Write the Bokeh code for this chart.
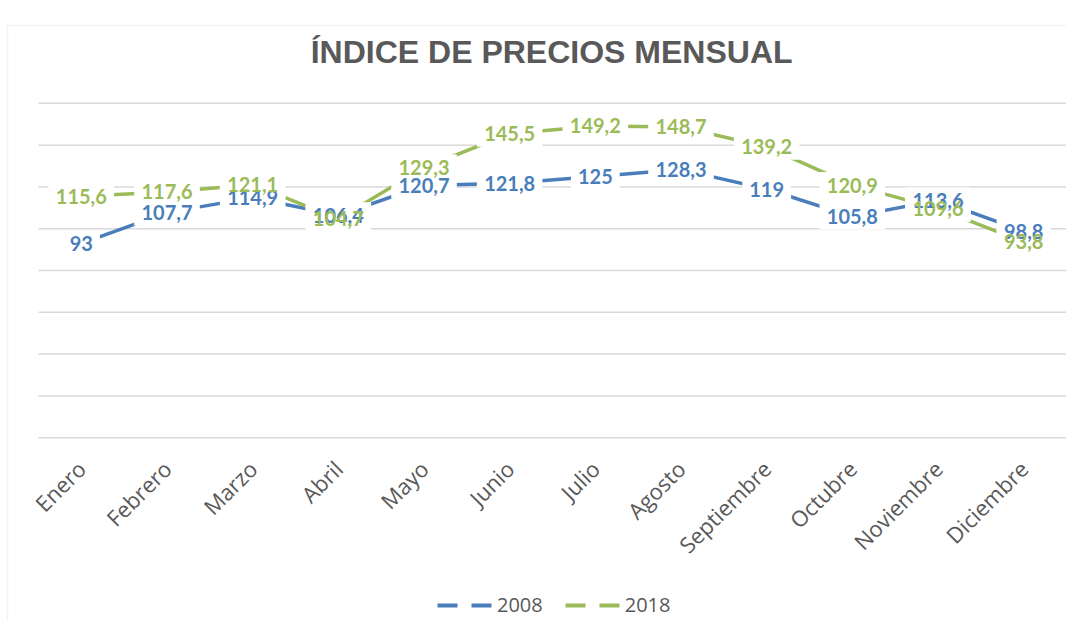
import math
from bokeh.plotting import figure
from bokeh.models import ColumnDataSource, Range1d, Legend, LegendItem, BoxAnnotation
from bokeh.core.properties import value
from bokeh.embed import file_html
from bokeh.resources import INLINE

months = ["Enero", "Febrero", "Marzo", "Abril", "Mayo", "Junio", "Julio",
          "Agosto", "Septiembre", "Octubre", "Noviembre", "Diciembre"]
v2008 = [93, 107.7, 114.9, 106.4, 120.7, 121.8, 125, 128.3, 119, 105.8, 113.6, 98.8]
v2018 = [115.6, 117.6, 121.1, 104.7, 129.3, 145.5, 149.2, 148.7, 139.2, 120.9, 109.6, 93.8]
series_names = ["2008", "2018"]
y_ticks = [0, 20, 40, 60, 80, 100, 120, 140, 160]
title_text = "ÍNDICE DE PRECIOS MENSUAL"

BLUE = "#4a7ebb"
GREEN = "#9bbb59"
GRAY = "#595959"
GRID = "#d9d9d9"
LABEL_PX = 20

W, H = 1066, 621
LEFT_PX = 38            # frame pixel where the category band starts
ZERO_PX = 437.2         # pixel row of value 0
KY = 2.0896             # pixels per value unit
CAT_W = (W - LEFT_PX) / len(months)

x_lo = -LEFT_PX / CAT_W
y_hi = ZERO_PX / KY
y_lo = -(H - ZERO_PX) / KY

xpos = [i + 0.5 for i in range(len(months))]


def fmt(v):
    return ("%g" % v).replace(".", ",")


def box_w(s):
    w = 0.0
    for c in s:
        w += 0.26 if c == "," else 0.58
    return w * LABEL_PX + 14


p = figure(width=W, height=H, output_backend="svg", toolbar_location=None,
           x_range=Range1d(x_lo, len(months)), y_range=Range1d(y_lo, y_hi),
           x_axis_location=None, y_axis_location=None,
           min_border=0, min_border_left=0, min_border_right=0,
           min_border_top=0, min_border_bottom=0)
p.outline_line_color = None
p.background_fill_color = "white"
p.border_fill_color = "white"
p.xgrid.visible = False
p.ygrid.visible = False

# outer chart-area border (light gray)
p.add_layout(BoxAnnotation(left=(7 - LEFT_PX) / CAT_W, right=len(months) + 1,
                           top=(ZERO_PX - 25) / KY, bottom=y_lo - 10,
                           fill_alpha=0, line_color=GRID, line_width=1.5))

# horizontal gridlines
p.segment(x0=[0] * len(y_ticks), x1=[len(months)] * len(y_ticks), y0=y_ticks, y1=y_ticks,
          line_color=GRID, line_width=1.5)

# title
p.text(x=[len(months) / 2 - 0.01], y=[(ZERO_PX - 51) / KY], text=[title_text],
       text_align="center", text_baseline="middle", text_color=GRAY,
       text_font=value("Liberation Sans"), text_font_style="bold",
       text_font_size=value("32px"))

# category labels
p.text(x=xpos, y=[-(464 - ZERO_PX) / KY] * len(months), text=months, angle=math.pi / 4,
       text_align="right", text_baseline="middle", text_color=GRAY,
       text_font=value("Open Sans"), text_font_size=value("22px"))

src08 = ColumnDataSource(dict(x=xpos, y=v2008, t=[fmt(v) for v in v2008],
                              w=[box_w(fmt(v)) for v in v2008]))
src18 = ColumnDataSource(dict(x=xpos, y=v2018, t=[fmt(v) for v in v2018],
                              w=[box_w(fmt(v)) for v in v2018]))

p.line("x", "y", source=src08, line_color=BLUE, line_width=3.5)
p.line("x", "y", source=src18, line_color=GREEN, line_width=3.5)

# white label boxes for both series first, then all label texts
for src in (src08, src18):
    p.rect("x", "y", width="w", height=26, width_units="screen", height_units="screen",
           source=src, fill_color="white", line_color=None)
for src, col in ((src08, BLUE), (src18, GREEN)):
    p.text("x", "y", text="t", source=src, text_align="center", text_baseline="middle",
           text_color=col, text_font=value("Lato"), text_font_style="bold",
           text_font_size=value("%dpx" % LABEL_PX))

nan = float("nan")
leg08 = p.line(x=[0, 1], y=[nan, nan], line_color=BLUE, line_width=4, line_dash="20 14")
leg18 = p.line(x=[0, 1], y=[nan, nan], line_color=GREEN, line_width=4, line_dash="20 14")
legend = Legend(items=[LegendItem(label=series_names[0], renderers=[leg08]),
                       LegendItem(label=series_names[1], renderers=[leg18])],
                orientation="horizontal", location=(437, 3),
                glyph_width=56, glyph_height=20, label_height=20,
                label_text_font="Open Sans", label_text_font_size="20px",
                label_text_color=GRAY, padding=0, margin=0, spacing=22,
                label_standoff=4, border_line_color=None, background_fill_alpha=0)
p.add_layout(legend, "center")

open("out.html", "w").write(file_html(p, INLINE))
